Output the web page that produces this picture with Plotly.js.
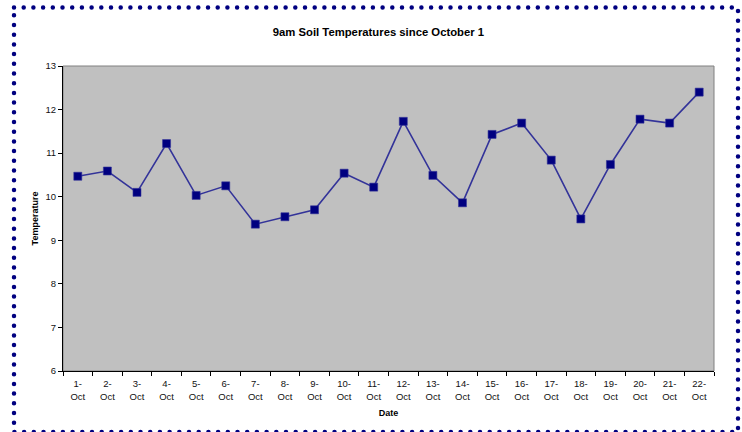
<!DOCTYPE html>
<html>
<head>
<meta charset="utf-8">
<script src="https://cdn.plot.ly/plotly-3.0.1.min.js"></script>
<style>
  html, body { margin: 0; padding: 0; background: #fff; }
  #wrap { position: relative; width: 742px; height: 432px; overflow: hidden; }
  #chart { position: absolute; left: 0; top: 0; width: 742px; height: 432px; }
  #frame { position: absolute; left: 0; top: 0; pointer-events: none; }
</style>
</head>
<body>
<div id="wrap">
  <div id="chart"></div>
  <svg id="frame" width="742" height="432">
    <rect x="14" y="7.5" width="724" height="424.5" fill="none" stroke="#000080" stroke-width="4.5" stroke-linecap="round" stroke-dasharray="0 9.7"></rect>
  </svg>
</div>
<script>
const dates = ["1-<br>Oct","2-<br>Oct","3-<br>Oct","4-<br>Oct","5-<br>Oct","6-<br>Oct","7-<br>Oct","8-<br>Oct","9-<br>Oct","10-<br>Oct","11-<br>Oct","12-<br>Oct","13-<br>Oct","14-<br>Oct","15-<br>Oct","16-<br>Oct","17-<br>Oct","18-<br>Oct","19-<br>Oct","20-<br>Oct","21-<br>Oct","22-<br>Oct"];
const temperatures = [10.47, 10.59, 10.10, 11.22, 10.03, 10.25, 9.37, 9.54, 9.70, 10.54, 10.22, 11.73, 10.49, 9.86, 11.43, 11.69, 10.84, 9.49, 10.74, 11.78, 11.69, 12.40];
const yTicks = [6, 7, 8, 9, 10, 11, 12, 13];

const font = "Liberation Sans, Arial, sans-serif";

const trace = {
  x: dates,
  y: temperatures,
  type: "scatter",
  mode: "lines+markers",
  line: { color: "#333399", width: 1.6 },
  marker: { symbol: "square", size: 8, color: "#000080", line: { color: "#333399", width: 0.6 } },
  hoverinfo: "x+y"
};

const layout = {
  width: 742,
  height: 432,
  margin: { l: 63, r: 28, t: 66, b: 61 },
  paper_bgcolor: "#ffffff",
  plot_bgcolor: "#C0C0C0",
  showlegend: false,
  font: { family: font, size: 9.5, color: "#111" },
  title: {
    text: "<b>9am Soil Temperatures since October 1</b>",
    font: { family: font, size: 11.3, color: "#000" },
    xref: "container", x: 0.51, xanchor: "center",
    yref: "container", y: 1 - 32 / 432, yanchor: "middle"
  },
  xaxis: {
    type: "category",
    tickmode: "array",
    tickvals: dates,
    ticktext: dates,
    tickson: "boundaries",
    ticks: "outside",
    ticklen: 4,
    tickcolor: "#000",
    tickwidth: 1,
    ticklabelstandoff: 4,
    showline: true,
    linecolor: "#000",
    linewidth: 1,
    showgrid: false,
    zeroline: false,
    tickfont: { family: font, size: 9.5, color: "#111" },
    range: [-0.5, dates.length - 0.5],
    title: { text: "<b>Date</b>", font: { family: font, size: 9, color: "#000" }, standoff: 8 }
  },
  yaxis: {
    range: [6, 13],
    tickmode: "array",
    tickvals: yTicks,
    ticks: "outside",
    ticklen: 4,
    tickcolor: "#000",
    showline: true,
    linecolor: "#000",
    linewidth: 1,
    showgrid: false,
    zeroline: false,
    tickfont: { family: font, size: 9.5, color: "#111" },
    title: { text: "<b>Temperature</b>", font: { family: font, size: 9, color: "#000" }, standoff: 5 }
  },
  shapes: [
    { type: "rect", xref: "paper", yref: "paper", x0: 0, x1: 1, y0: 0, y1: 1,
      line: { color: "#808080", width: 1 }, layer: "below" }
  ]
};

Plotly.newPlot("chart", [trace], layout, { displayModeBar: false, staticPlot: true });
</script>
</body>
</html>
